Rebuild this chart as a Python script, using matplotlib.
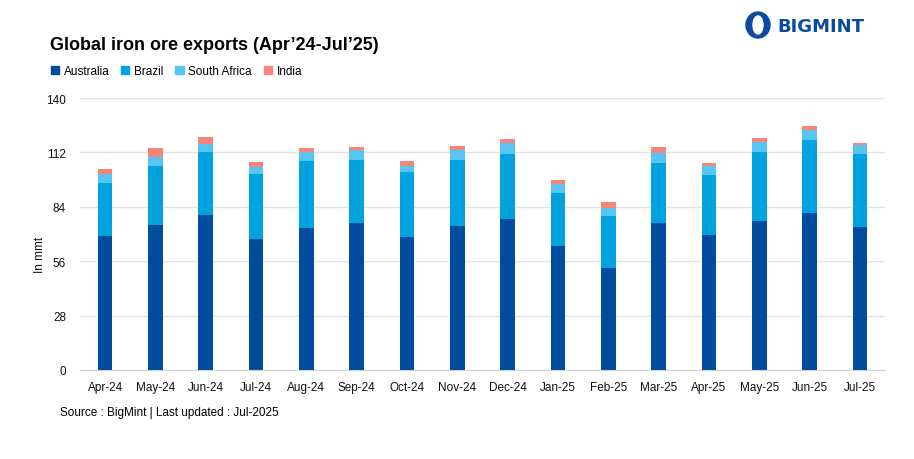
import matplotlib.pyplot as plt
import matplotlib.patches as mpatches
import numpy as np

months = ['Apr-24', 'May-24', 'Jun-24', 'Jul-24', 'Aug-24', 'Sep-24', 'Oct-24', 'Nov-24',
          'Dec-24', 'Jan-25', 'Feb-25', 'Mar-25', 'Apr-25', 'May-25', 'Jun-25', 'Jul-25']

# million tonnes
australia = [68.9, 74.5, 79.6, 67.3, 73.0, 75.5, 68.3, 74.0,
             77.6, 63.7, 52.4, 75.5, 69.4, 76.6, 80.7, 73.5]
brazil = [27.2, 30.3, 32.4, 33.4, 34.4, 32.4, 33.4, 33.9,
          33.4, 27.3, 26.7, 30.9, 30.8, 35.4, 37.5, 37.5]
south_africa = [4.6, 5.0, 4.1, 3.8, 4.6, 5.1, 3.1, 5.1,
                5.6, 4.6, 4.1, 5.1, 4.6, 5.2, 5.1, 4.6]
india = [2.6, 4.3, 3.6, 2.4, 2.1, 1.6, 2.6, 2.1,
         2.1, 2.0, 3.1, 3.1, 1.6, 2.0, 2.1, 1.0]

yticks = [0, 28, 56, 84, 112, 140]

c_aus = '#004C9F'
c_bra = '#00A3E0'
c_sa = '#56C5F2'
c_ind = '#F7847A'

plt.rcParams['font.family'] = ['Liberation Sans', 'DejaVu Sans']

fig = plt.figure(figsize=(9.14, 4.6), dpi=100)
ax = fig.add_axes([80 / 914, 89 / 460, 805 / 914, 272 / 460])

x = np.arange(len(months))
w = 0.29
aus = np.array(australia)
bra = np.array(brazil)
sa = np.array(south_africa)
ind = np.array(india)

ax.bar(x, aus, w, color=c_aus, zorder=3)
ax.bar(x, bra, w, bottom=aus, color=c_bra, zorder=3)
ax.bar(x, sa, w, bottom=aus + bra, color=c_sa, zorder=3)
ax.bar(x, ind, w, bottom=aus + bra + sa, color=c_ind, zorder=3)

ax.set_xlim(-0.5, len(months) - 0.5)
ax.set_ylim(0, 140)
ax.set_yticks(yticks)
ax.set_xticks(x)
ax.set_xticklabels(months)
ax.tick_params(axis='both', length=0, labelsize=8.5, colors='#111111')
ax.tick_params(axis='x', pad=8)
ax.tick_params(axis='y', pad=10)
ax.grid(axis='y', color='#E3E3E3', linewidth=1, zorder=0)
for s in ['top', 'right', 'left']:
    ax.spines[s].set_visible(False)
ax.spines['bottom'].set_color('#D0D0D0')
ax.spines['bottom'].set_zorder(4)
ax.set_ylabel('In mmt', fontsize=8.5, color='#111111')
ax.yaxis.set_label_coords(-0.042, 0.426)

fig.text(50 / 914, 1 - 45 / 460, 'Global iron ore exports (Apr\u201924-Jul\u201925)',
         fontsize=13, fontweight='bold', va='center', ha='left')

handles = [mpatches.Patch(color=c, label=l) for c, l in
           [(c_aus, 'Australia'), (c_bra, 'Brazil'), (c_sa, 'South Africa'), (c_ind, 'India')]]
fig.legend(handles=handles, loc='center left', bbox_to_anchor=(40 / 914, 1 - 72 / 460),
           ncol=4, frameon=False, fontsize=8.5, handlelength=0.7, handleheight=0.7,
           handletextpad=0.4, columnspacing=1.0)

fig.text(60 / 914, 1 - 413 / 460, 'Source : BigMint | Last updated : Jul-2025',
         fontsize=8.5, va='center', ha='left')

# logo
fig.patches.append(mpatches.Ellipse((758 / 914, 1 - 26 / 460), 24 / 914, 26 / 460,
                                    transform=fig.transFigure, color='#0B4A9E'))
fig.patches.append(mpatches.Ellipse((758 / 914, 1 - 26 / 460), 10 / 914, 18 / 460,
                                    transform=fig.transFigure, color='white'))
fig.text(777 / 914, 1 - 27 / 460, 'BIGMINT', fontsize=13, fontweight='bold', color='#0B4A9E',
         va='center', ha='left', family='DejaVu Sans')

fig.savefig('out.png', dpi=100)
